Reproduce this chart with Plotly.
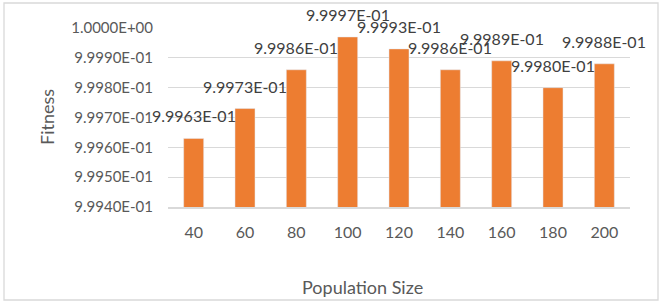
import plotly.graph_objects as go

categories = ["40", "60", "80", "100", "120", "140", "160", "180", "200"]
fitness = [0.99963, 0.99973, 0.99986, 0.99997, 0.99993, 0.99986, 0.99989, 0.99980, 0.99988]
tick_vals = [0.9994, 0.9995, 0.9996, 0.9997, 0.9998, 0.9999, 1.0]
tick_text = ["9.9940E-01", "9.9950E-01", "9.9960E-01", "9.9970E-01", "9.9980E-01", "9.9990E-01", "1.0000E+00"]

def sci(v):
    s = "%.4E" % v
    mant, exp = s.split("E")
    e = int(exp)
    return "%sE%s%02d" % (mant, "-" if e < 0 else "+", abs(e))

W, H = 660, 304
ml, mr, mt, mb = 168, 30, 28, 97
FONT = "Lato, 'Open Sans', sans-serif"
GREY = "#595959"

fig = go.Figure()
fig.add_trace(go.Bar(
    x=categories, y=fitness, marker_color="#ED7D31",
    hoverinfo="skip",
))
for i, v in enumerate(fitness):
    fig.add_annotation(x=i, y=v, text=sci(v), showarrow=False, yanchor="bottom",
                       yshift=11, font=dict(family=FONT, size=16, color="#404040"))

pw = W - ml - mr
ph = H - mt - mb
fig.add_shape(type="rect", xref="paper", yref="paper",
              x0=(4 - ml) / pw, x1=(658 - ml) / pw,
              y0=(H - mb - 300) / ph, y1=(H - mb - 3) / ph,
              line=dict(color="#d9d9d9", width=1.3), fillcolor="rgba(0,0,0,0)", layer="below")

# axis titles
fig.add_annotation(text="Population Size", xref="paper", yref="paper",
                   x=(362 - ml) / pw, y=(H - mb - 287) / ph, xanchor="center", yanchor="middle",
                   showarrow=False, font=dict(family=FONT, size=18, color=GREY))
fig.add_annotation(text="Fitness", xref="paper", yref="paper", textangle=-90,
                   x=(47 - ml) / pw, y=(H - mb - 117) / ph, xanchor="center", yanchor="middle",
                   showarrow=False, font=dict(family=FONT, size=18, color=GREY))

fig.update_layout(
    width=W, height=H,
    margin=dict(l=ml, r=mr, t=mt, b=mb),
    paper_bgcolor="white", plot_bgcolor="white",
    showlegend=False, bargap=0.61,
    font=dict(family=FONT, size=15, color=GREY),
    xaxis=dict(
        type="category", categoryorder="array", categoryarray=categories,
        range=[-0.5, len(categories) - 0.5],
        showgrid=False, showline=True, linecolor="#d9d9d9", linewidth=1.5,
        ticks="", tickfont=dict(size=16, color=GREY), ticklabelstandoff=10,
    ),
    yaxis=dict(
        range=[0.9994, 1.0], tickvals=tick_vals, ticktext=tick_text,
        showgrid=True, gridcolor="#d9d9d9", gridwidth=1,
        zeroline=False, showline=False, ticks="",
        tickfont=dict(size=15, color=GREY), ticklabelstandoff=14,
    ),
)

fig.write_html("out.html")
